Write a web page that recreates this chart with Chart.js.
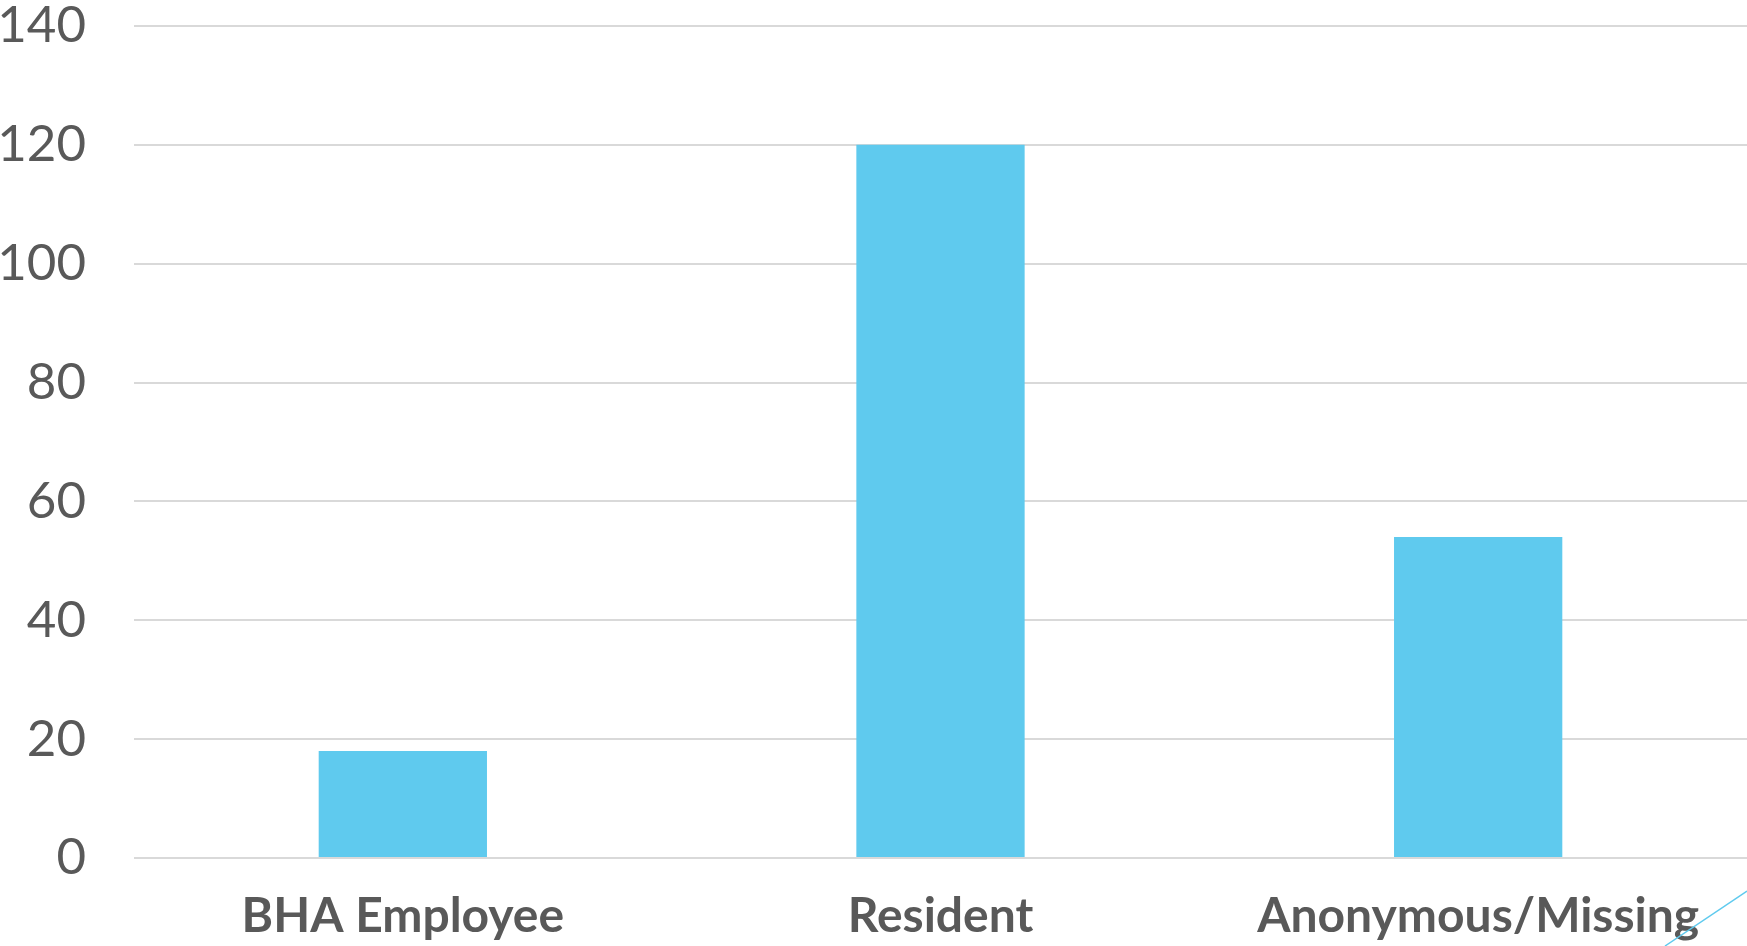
<!DOCTYPE html>
<html>
<head>
<meta charset="utf-8">
<script src="https://cdn.jsdelivr.net/npm/chart.js@4"></script>
<style>
    html, body { margin: 0; padding: 0; background: #ffffff; }
    #wrap { width: 1747px; height: 946px; position: relative; }
</style>
</head>
<body>
<div id="wrap"><canvas id="barChart"></canvas></div>
<script>
const categories = ['BHA Employee', 'Resident', 'Anonymous/Missing'];
const counts = [18, 120, 54];
const yTicks = [0, 20, 40, 60, 80, 100, 120, 140];

const textColor = '#595959';

// thin slide decoration line in the bottom right corner
const cornerLine = {
    id: 'cornerLine',
    afterDraw: (chart) => {
        const c = chart.ctx;
        const w = chart.width, h = chart.height;
        c.save();
        c.strokeStyle = '#5FCAEE';
        c.lineWidth = 1.5;
        c.beginPath();
        c.moveTo(w - 82, h);
        c.lineTo(w, h - 55);
        c.stroke();
        c.restore();
    }
};

const ctx = document.getElementById('barChart').getContext('2d');
new Chart(ctx, {
    type: 'bar',
    data: {
        labels: categories,
        datasets: [{
            data: counts,
            backgroundColor: '#5FCAEE',
            borderWidth: 0,
            categoryPercentage: 1,
            barPercentage: 0.313
        }]
    },
    options: {
        responsive: true,
        maintainAspectRatio: false,
        animation: false,
        layout: { padding: { top: 26, right: 0, bottom: 0, left: 0 } },
        plugins: {
            legend: { display: false },
            tooltip: { enabled: false }
        },
        scales: {
            x: {
                afterFit: (axis) => {
                    axis.height = 88;
                    axis.paddingLeft = 0;
                    axis.paddingRight = 0;
                    axis.paddingTop = 0;
                    axis.paddingBottom = 0;
                },
                grid: { display: false, drawTicks: false },
                border: { display: false },
                ticks: {
                    color: textColor,
                    padding: 30,
                    maxRotation: 0,
                    font: { family: 'Lato', size: 48, weight: 'bold', lineHeight: 1.2 }
                }
            },
            y: {
                min: 0,
                max: 140,
                afterBuildTicks: (axis) => {
                    axis.ticks = yTicks.map(v => ({ value: v }));
                },
                afterFit: (axis) => {
                    axis.width = 134;
                    axis.paddingTop = 0;
                    axis.paddingBottom = 0;
                },
                grid: { color: '#D9D9D9', lineWidth: 2, drawTicks: false },
                border: { display: false },
                ticks: {
                    color: textColor,
                    padding: 48,
                    font: { family: 'Lato', size: 51, lineHeight: 1 }
                }
            }
        }
    },
    plugins: [cornerLine]
});
</script>
</body>
</html>
